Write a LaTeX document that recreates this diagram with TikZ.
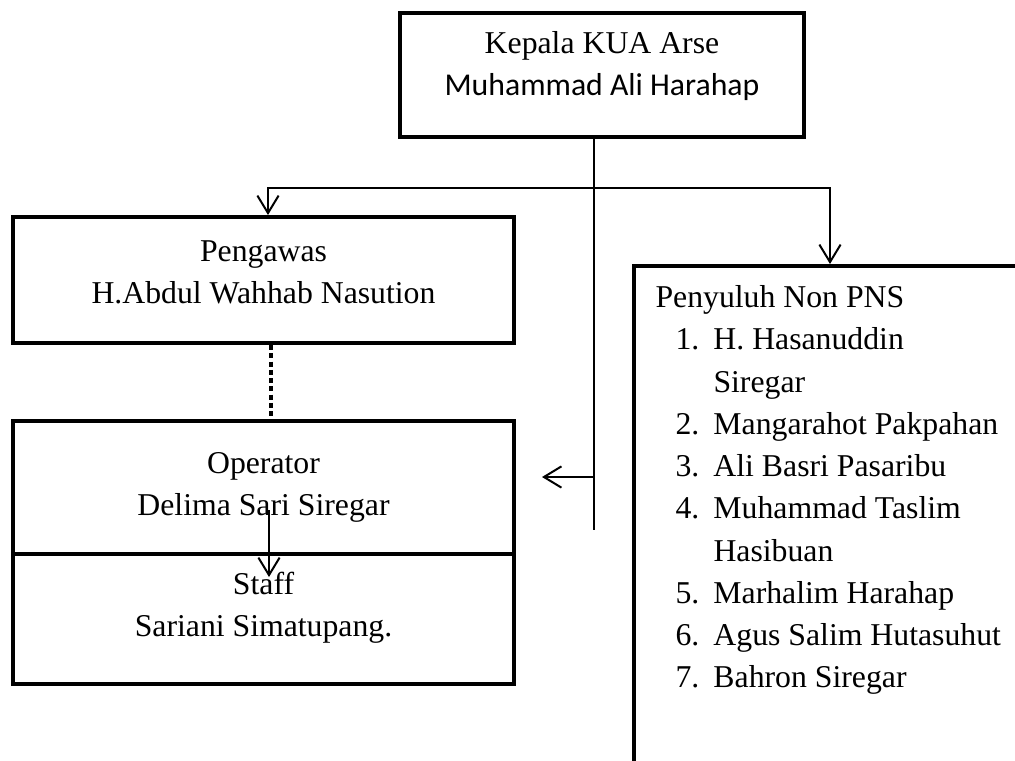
\documentclass[tikz,border=0pt]{standalone}
\usepackage{fontspec}
\setmainfont{Liberation Serif}
\newfontfamily\calibrifont{Carlito}
\usetikzlibrary{arrows.meta, positioning}
\newcommand\penitem[2]{\hspace*{8pt}\makebox[15.2pt][l]{#1}#2}
\newcommand\pencont[1]{\hspace*{23.2pt}#1}
\tikzset{
    orgbox/.style 2 args={draw, line width=1.6pt, minimum width=#1*0.4pt, minimum height=#2*0.4pt, inner sep=0pt},
    boxtext/.style={align=center, inner sep=0pt, font=\fontsize{12.7}{16.8}\selectfont},
    listtext/.style={align=left, inner sep=0pt, font=\fontsize{12.7}{16.9}\selectfont},
    link/.style={draw, line width=0.8pt},
    dotline/.style={draw, line width=1.4pt, dash pattern=on 2pt off 1.3pt},
    >={Straight Barb[length=7pt,width=8.5pt]}
}
\begin{document}
\begin{tikzpicture}[x=0.4pt, y=-0.4pt]
    \useasboundingbox (0,0) rectangle (1015,761);
    \clip (0,0) rectangle (1015,761);
    % boxes
    \node[orgbox={404}{124}] (kepala) at (602,75) {};
    \node[orgbox={501}{126}] (pengawas) at (263.5,280) {};
    \node[orgbox={501}{133}] (operator) at (263.5,487.5) {};
    \node[orgbox={501}{130}] (staff) at (263.5,619) {};
    \node[orgbox={420}{540}, anchor=north west] (penyuluh) at (632,264) {};
    % texts
    \node[boxtext] (kepalatext) at (602,66.5) {Kepala KUA Arse\\{\calibrifont Muhammad Ali Harahap}};
    \node[boxtext] (pengawastext) at (263.5,272) {Pengawas\\H.Abdul Wahhab Nasution};
    \node[boxtext] (operatortext) at (263.5,487) {Operator\\Delima Sari Siregar};
    \node[boxtext] (stafftext) at (263.5,607.5) {Staff\\Sariani Simatupang.};
    \node[listtext, anchor=north west] (penyuluhtext) at (655,285) {Penyuluh Non PNS\\
        \penitem{1.}{H. Hasanuddin}\\
        \pencont{Siregar}\\
        \penitem{2.}{Mangarahot Pakpahan}\\
        \penitem{3.}{Ali Basri Pasaribu}\\
        \penitem{4.}{Muhammad Taslim}\\
        \pencont{Hasibuan}\\
        \penitem{5.}{Marhalim Harahap}\\
        \penitem{6.}{Agus Salim Hutasuhut}\\
        \penitem{7.}{Bahron Siregar}};
    % connectors
    \coordinate (trunk) at (594,530);
    \coordinate (branchL) at (268,188);
    \coordinate (branchR) at (830,188);
    \coordinate (optip) at (542,477);
    \coordinate (dotx) at (271,0);
    \coordinate (opdown) at (269,510);
    \coordinate (staffin) at (269,577);
    \draw[link] (kepala.south -| trunk) -- (trunk);
    \draw[link, <->] (branchL |- pengawas.north) -- (branchL) -- (branchR) -- (branchR |- penyuluh.north);
    \draw[link, ->] (optip -| trunk) -- (optip);
    \draw[dotline] (pengawas.south -| dotx) -- (operator.north -| dotx);
    \draw[link, ->] (opdown) -- (staffin);
\end{tikzpicture}
\end{document}
